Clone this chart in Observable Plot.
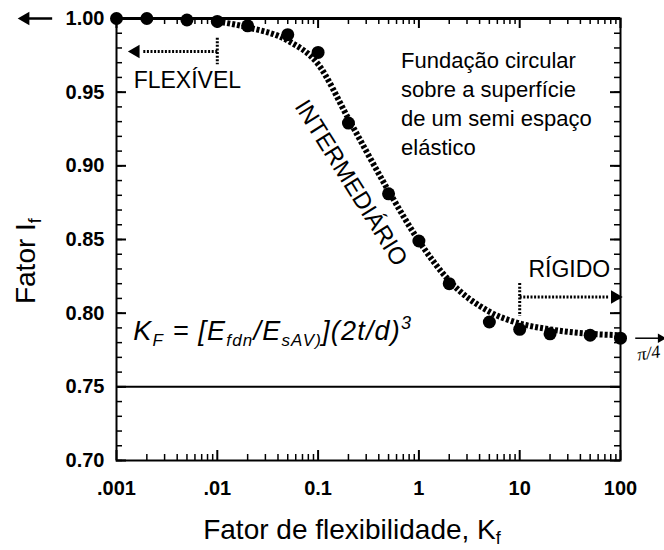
<!DOCTYPE html>
<html><head><meta charset="utf-8">
<script src="https://cdn.jsdelivr.net/npm/d3@7"></script>
<script src="https://cdn.jsdelivr.net/npm/@observablehq/plot@0.6"></script>
<style>body{margin:0;background:#fff} svg{display:block}</style>
</head><body><div id="chart"></div>
<script>
// measured points (Fator de flexibilidade Kf, Fator If)
const kf = [0.001, 0.002, 0.005, 0.01, 0.02, 0.05, 0.1, 0.2, 0.5, 1, 2, 5, 10, 20, 50, 100];
const ifMeasured = [1.000, 1.000, 0.999, 0.998, 0.995, 0.989, 0.977, 0.929, 0.881, 0.849, 0.820, 0.794, 0.789, 0.786, 0.785, 0.783];
// dotted trend curve
const curveKf = [0.01, 0.02, 0.05, 0.1, 0.2, 0.5, 1, 2, 5, 10, 20, 50, 100];
const curveIf = [0.998, 0.994, 0.985, 0.969, 0.932, 0.883, 0.849, 0.822, 0.801, 0.793, 0.789, 0.786, 0.785];
// axes
const xTickValues = [0.001, 0.01, 0.1, 1, 10, 100];
const xTickLabels = [".001", ".01", "0.1", "1", "10", "100"];
const yTickValues = [0.70, 0.75, 0.80, 0.85, 0.90, 0.95, 1.00];
const yTickLabels = ["0.70", "0.75", "0.80", "0.85", "0.90", "0.95", "1.00"];
const yMinor = d3.range(70, 101).map(d => d / 100);
const xMinor = [0.001, 0.01, 0.1, 1, 10].flatMap(d => [2,3,4,5,6,7,8,9].map(k => k * d));
// annotation texts
const boxText = "Fundação circular\nsobre a superfície\nde um semi espaço\nelástico";
const flexLabel = "FLEXÍVEL";
const interLabel = "INTERMEDIÁRIO";
const rigidLabel = "RÍGIDO";
const piLabel = "π/4";
const yTitle = ["Fator I", "f"];
const xTitle = ["Fator de flexibilidade, K", "f"];

const W = 664, H = 550, ML = 116, MR = 44, MT = 18, MB = 90;
const PW = W - ML - MR, PH = H - MT - MB;
const font = "Liberation Sans, Arial, Helvetica, sans-serif";

const measured = kf.map((k, i) => ({k, v: ifMeasured[i]}));
const curve = curveKf.map((k, i) => ({k, v: curveIf[i]}));
const dotted = {strokeWidth: 3, strokeDasharray: "2,1.6", strokeLinecap: "butt"};

const plot = Plot.plot({
  width: W, height: H,
  marginLeft: ML, marginRight: MR, marginTop: MT, marginBottom: MB,
  style: {fontFamily: font, background: "#fff", color: "#000"},
  x: {type: "log", domain: [0.001, 100]},
  y: {domain: [0.70, 1.00]},
  marks: [
    // ticks (inward)
    Plot.tickY(yMinor, {y: d => d, insetRight: PW - 6, strokeWidth: 1.5}),
    Plot.tickY(yTickValues, {y: d => d, insetRight: PW - 10, strokeWidth: 2}),
    Plot.tickY(yMinor, {y: d => d, insetLeft: PW - 6, strokeWidth: 1.5}),
    Plot.tickY(yTickValues, {y: d => d, insetLeft: PW - 10, strokeWidth: 2}),
    Plot.tickX(xMinor, {x: d => d, insetTop: PH - 6, strokeWidth: 1.5}),
    Plot.tickX(xTickValues, {x: d => d, insetTop: PH - 10, strokeWidth: 2}),
    Plot.tickX(xMinor, {x: d => d, insetBottom: PH - 6, strokeWidth: 1.5}),
    Plot.tickX(xTickValues, {x: d => d, insetBottom: PH - 10, strokeWidth: 2}),
    Plot.frame({strokeWidth: 2}),
    Plot.ruleY([1.0], {strokeWidth: 3}),
    Plot.ruleY([0.75], {strokeWidth: 2}),
    // dotted trend curve
    Plot.line(curve, {x: "k", y: "v", curve: "monotone-x", strokeWidth: 6, strokeDasharray: "3,2", strokeLinecap: "butt"}),
    // data points
    Plot.dot(measured, {x: "k", y: "v", r: 6.5, fill: "#000", stroke: "none"}),
    // top-left arrow next to 1.00
    Plot.link([0], {x1: 0.00023, x2: 0.000135, y1: 1.0, y2: 1.0, strokeWidth: 2.5}),
    Plot.dot([0], {x: 0.000125, y: 1.0, symbol: "triangle", r: 5, fill: "#000", stroke: "none", rotate: -90}),
    // FLEXÍVEL arrow
    Plot.link([0], {x1: 0.01, x2: 0.0018, y1: 0.9776, y2: 0.9776, ...dotted}),
    Plot.link([0], {x1: 0.01, x2: 0.01, y1: 0.987, y2: 0.969, ...dotted}),
    Plot.dot([0], {x: 0.00155, y: 0.9776, symbol: "triangle", r: 5, fill: "#000", stroke: "none", rotate: -90}),
    Plot.text([flexLabel], {x: 0.00148, y: 0.958, text: d => d, textAnchor: "start", fontSize: 23}),
    // INTERMEDIÁRIO
    Plot.text([interLabel], {x: 0.212, y: 0.8884, text: d => d, rotate: 58, fontSize: 24}),
    // description
    Plot.text([boxText], {x: 0.665, y: 0.9807, text: d => d, textAnchor: "start", lineAnchor: "top", lineHeight: 1.32, fontSize: 22}),
    // RÍGIDO arrow
    Plot.text([rigidLabel], {x: 12.2, y: 0.8293, text: d => d, textAnchor: "start", fontSize: 23}),
    Plot.link([0], {x1: 10, x2: 10, y1: 0.8204, y2: 0.798, ...dotted}),
    Plot.link([0], {x1: 10, x2: 78, y1: 0.8109, y2: 0.8109, ...dotted}),
    Plot.dot([0], {x: 88, y: 0.8109, symbol: "triangle", r: 5, fill: "#000", stroke: "none", rotate: 90}),
    // π/4 marker
    Plot.link([0], {x1: 140, x2: 240, y1: 0.783, y2: 0.783, strokeWidth: 1.5}),
    Plot.dot([0], {x: 250, y: 0.783, symbol: "triangle", r: 3.5, fill: "#000", stroke: "none", rotate: 90}),
    Plot.text([piLabel], {x: 190, y: 0.7728, text: d => d, fontSize: 18, fontStyle: "italic", fontFamily: "Liberation Serif, serif", rotate: -8}),
    // axes
    Plot.axisX({ticks: xTickValues, tickSize: 0, tickPadding: 20, fontSize: 20, fontWeight: "bold",
      tickFormat: d => xTickLabels[xTickValues.indexOf(d)], label: null}),
    Plot.axisY({ticks: yTickValues, tickSize: 0, tickPadding: 12, fontSize: 20, fontWeight: "bold",
      tickFormat: d => yTickLabels[yTickValues.findIndex(v => Math.abs(v - d) < 1e-9)], label: null})
  ]
});

const NS = "http://www.w3.org/2000/svg";
function rich(parent, attrs, parts) {
  const t = document.createElementNS(NS, "text");
  for (const [k, v] of Object.entries(attrs)) t.setAttribute(k, v);
  let shift = 0;
  for (const [str, s, size] of parts) {
    const sp = document.createElementNS(NS, "tspan");
    sp.setAttribute("dy", s - shift);
    if (size) sp.setAttribute("font-size", size);
    sp.textContent = str;
    t.appendChild(sp);
    shift = s;
  }
  parent.appendChild(t);
  return t;
}
const sx = plot.scale("x"), sy = plot.scale("y");
// formula
rich(plot, {x: sx.apply(0.00148), y: sy.apply(0.7815), "text-anchor": "start", "font-size": 27, "letter-spacing": 1.2, "font-style": "italic", "font-family": font, fill: "#000"}, [
  ["K", 0], ["F", 6, 17], [" = [E", 0], ["fdn", 6, 17], ["/E", 0], ["sAV)", 6, 17], ["](2t/d)", 0], ["3", -11, 18]
]);
// axis titles
rich(plot, {transform: `translate(35,${MT + PH * 0.55}) rotate(-90)`, "text-anchor": "middle", "font-size": 28, "font-family": font, fill: "#000"}, [
  [yTitle[0], 0], [yTitle[1], 6, 18]
]);
rich(plot, {x: 352, y: 539, "text-anchor": "middle", "font-size": 28, "font-family": font, fill: "#000"}, [
  [xTitle[0], 0], [xTitle[1], 5, 18]
]);
document.getElementById("chart").appendChild(plot);
</script>
</body></html>
